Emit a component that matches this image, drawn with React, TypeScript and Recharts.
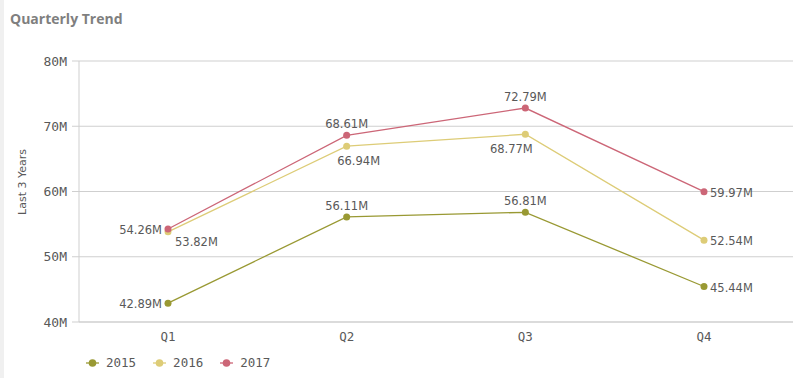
import { LineChart, Line, XAxis, YAxis, CartesianGrid } from 'recharts'

const quarters = ['Q1', 'Q2', 'Q3', 'Q4']
const sales2015 = [42.89, 56.11, 56.81, 45.44]
const sales2016 = [53.82, 66.94, 68.77, 52.54]
const sales2017 = [54.26, 68.61, 72.79, 59.97]
const yTicks = [40, 50, 60, 70, 80]

const series = [
  { key: 'y2015', name: '2015', color: '#999933', values: sales2015 },
  { key: 'y2016', name: '2016', color: '#ddcc77', values: sales2016 },
  { key: 'y2017', name: '2017', color: '#cc6677', values: sales2017 },
]

const data = quarters.map((q, i) => ({
  quarter: q,
  y2015: sales2015[i],
  y2016: sales2016[i],
  y2017: sales2017[i],
}))

const textColor = '#595959'
const monoFont = '"DejaVu Sans Mono", monospace'

// where each value label sits relative to its point
function labelFor(seriesKey: string) {
  return (props: any) => {
    const { x, y, value, index } = props
    let dx = 0
    let dy = -11
    let anchor: 'start' | 'middle' | 'end' = 'middle'
    if (index === 0) {
      if (seriesKey === 'y2016') {
        dx = 7
        dy = 10
        anchor = 'start'
      } else {
        dx = -6
        dy = 1
        anchor = 'end'
      }
    } else if (index === quarters.length - 1) {
      dx = 6
      dy = 1
      anchor = 'start'
    } else if (seriesKey === 'y2016') {
      dx = index === 1 ? 12 : -14
      dy = 15
    }
    return (
      <text
        x={x + dx}
        y={y + dy}
        dy="0.35em"
        textAnchor={anchor}
        fontSize={11.5}
        fontFamily='"DejaVu Sans", sans-serif'
        fill={textColor}
      >
        {`${Number(value).toFixed(2)}M`}
      </text>
    )
  }
}

export default function App() {
  return (
    <div style={{ position: 'absolute', left: 0, top: 0, width: 799, height: 378, background: '#fff', overflow: 'hidden' }}>
      <div style={{ position: 'absolute', left: 0, top: 0, width: 4, height: 378, background: '#f0f0f0' }} />
      <div
        style={{
          position: 'absolute',
          left: 10,
          top: 9,
          fontFamily: '"Open Sans", sans-serif',
          fontWeight: 700,
          fontSize: 14,
          color: '#7f7f7f',
        }}
      >
        Quarterly Trend
      </div>
      <div
        style={{
          position: 'absolute',
          left: 22,
          top: 182,
          transform: 'translate(-50%, -50%) rotate(-90deg)',
          fontFamily: '"DejaVu Sans", sans-serif',
          fontSize: 11,
          color: textColor,
          whiteSpace: 'nowrap',
        }}
      >
        Last 3 Years
      </div>
      <LineChart
        width={799}
        height={378}
        data={data}
        margin={{ top: 61, right: 6, left: 0, bottom: 30 }}
      >
        <CartesianGrid vertical={false} stroke="#cfcfcf" />
        <XAxis
          dataKey="quarter"
          padding={{ left: 89, right: 89 }}
          height={26}
          tickLine={false}
          axisLine={{ stroke: '#cfcfcf' }}
          tick={{ fontSize: 12.5, fontFamily: monoFont, fill: textColor }}
          tickMargin={4}
        />
        <YAxis
          width={79}
          domain={[40, 80]}
          ticks={yTicks}
          tickFormatter={(v) => `${v}M`}
          axisLine={{ stroke: '#cfcfcf' }}
          tickLine={{ stroke: '#cfcfcf' }}
          tickSize={7}
          tickMargin={5}
          tick={{ fontSize: 13, fontFamily: monoFont, fill: textColor }}
        />
        {series.map((s) => (
          <Line
            key={s.key}
            type="linear"
            dataKey={s.key}
            name={s.name}
            stroke={s.color}
            strokeWidth={1.3}
            dot={{ r: 3.5, fill: s.color, stroke: s.color, strokeWidth: 0 }}
            label={labelFor(s.key)}
            isAnimationActive={false}
          />
        ))}
      </LineChart>
      <div
        style={{
          position: 'absolute',
          left: 86,
          top: 355,
          display: 'flex',
          gap: 17,
          fontFamily: monoFont,
          fontSize: 12.5,
          color: textColor,
        }}
      >
        {series.map((s) => (
          <div key={s.key} style={{ display: 'flex', alignItems: 'center', gap: 7 }}>
            <svg width={13} height={10}>
              <line x1={0} y1={5} x2={13} y2={5} stroke={s.color} strokeWidth={1.3} />
              <circle cx={6.5} cy={5} r={3.8} fill={s.color} />
            </svg>
            <span>{s.name}</span>
          </div>
        ))}
      </div>
    </div>
  )
}
